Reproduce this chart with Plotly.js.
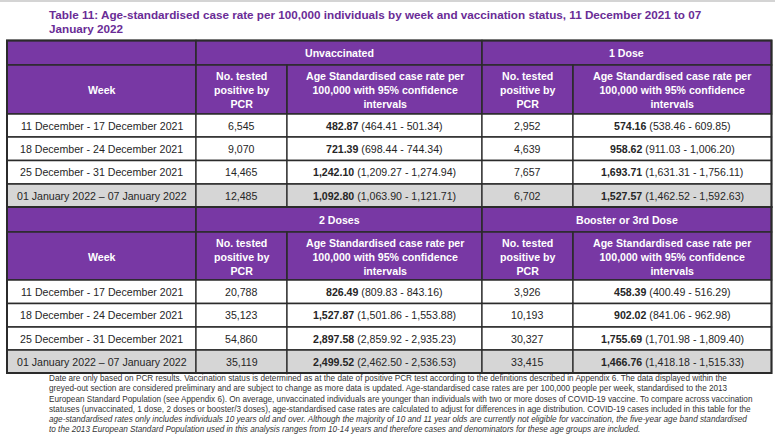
<!DOCTYPE html>
<html>
<head>
<meta charset="utf-8">
<script src="https://cdn.plot.ly/plotly-3.0.1.min.js"></script>
<style>html,body{margin:0;padding:0;background:#fff;}#chart{width:775px;height:437px;}</style>
</head>
<body>
<div id="chart"></div>
<script>
// ---- data ----
const weeks = ["11 December - 17 December 2021", "18 December - 24 December 2021", "25 December - 31 December 2021", "01 January 2022 \u2013 07 January 2022"];
const groups = ["Unvaccinated", "1 Dose", "2 Doses", "Booster or 3rd Dose"];
const positiveUnvacc = [6545, 9070, 14465, 12485];
const positiveDose1 = [2952, 4639, 7657, 6702];
const positiveDose2 = [20788, 35123, 54860, 35119];
const positiveBooster = [3926, 10193, 30327, 33415];
const rateUnvacc = [482.87, 721.39, 1242.10, 1092.80];
const lowerUnvacc = [464.41, 698.44, 1209.27, 1063.90];
const upperUnvacc = [501.34, 744.34, 1274.94, 1121.71];
const rateDose1 = [574.16, 958.62, 1693.71, 1527.57];
const lowerDose1 = [538.46, 911.03, 1631.31, 1462.52];
const upperDose1 = [609.85, 1006.20, 1756.11, 1592.63];
const rateDose2 = [826.49, 1527.87, 2897.58, 2499.52];
const lowerDose2 = [809.83, 1501.86, 2859.92, 2462.50];
const upperDose2 = [843.16, 1553.88, 2935.23, 2536.53];
const rateBooster = [458.39, 902.02, 1755.69, 1466.76];
const lowerBooster = [400.49, 841.06, 1701.98, 1418.18];
const upperBooster = [516.29, 962.98, 1809.40, 1515.33];
const colHeaderWeek = "Week";
const colHeaderPositive = "No. tested<br>positive by<br>PCR";
const colHeaderRate = "Age Standardised case rate per<br>100,000 with 95% confidence<br>intervals";
const titleLines = ["Table 11: Age-standardised case rate per 100,000 individuals by week and vaccination status, 11 December 2021 to 07", "January 2022"];
const noteLines = [
  "Date are only based on PCR results. Vaccination status is determined as at the date of positive PCR test according to the definitions described in Appendix 6. The data displayed within the",
  "greyed-out section are considered preliminary and are subject to change as more data is updated. Age-standardised case rates are per 100,000 people per week, standardised to the 2013",
  "European Standard Population (see Appendix 6). On average, unvaccinated individuals are younger than individuals with two or more doses of COVID-19 vaccine. To compare across vaccination",
  "statuses (unvaccinated, 1 dose, 2 doses or booster/3 doses), age-standardised case rates are calculated to adjust for differences in age distribution. COVID-19 cases included in this table for the",
  "<i>age-standardised rates only includes individuals 10 years old and over. Although the majority of 10 and 11 year olds are currently not eligible for vaccination, the five-year age band standardised</i>",
  "<i>to the 2013 European Standard Population used in this analysis ranges from 10-14 years and therefore cases and denominators for these age groups are included.</i>"
];

// ---- layout geometry (pixel-space axes) ----
const colEdges = [7, 196, 287, 482, 573, 771.5];
const blocks = [
  {rows: [40.5, 65, 114, 137, 160.5, 184, 207], left: [positiveUnvacc, rateUnvacc, lowerUnvacc, upperUnvacc, groups[0]], right: [positiveDose1, rateDose1, lowerDose1, upperDose1, groups[1]]},
  {rows: [207, 232, 280, 303.5, 327, 350, 373], left: [positiveDose2, rateDose2, lowerDose2, upperDose2, groups[2]], right: [positiveBooster, rateBooster, lowerBooster, upperBooster, groups[3]]}
];

function fmt(v, d) {
  const parts = v.toFixed(d).split(".");
  parts[0] = parts[0].replace(/\B(?=(\d{3})+(?!\d))/g, ",");
  return parts.join(".");
}

const PURPLE = "#7838A4";
const GREY = "#D6D6D6";
const BORDER = "#2b2b2b";
const TEXT = "#262626";
const FONT = "Liberation Sans, Arial, sans-serif";

const shapes = [];
const annotations = [];

function rect(x0, x1, y0, y1, fill, lw) {
  shapes.push({type: "rect", xref: "x", yref: "y", x0: x0, x1: x1, y0: y0, y1: y1,
    fillcolor: fill, line: {color: BORDER, width: lw}, layer: "below"});
}
function text(x, y, t, opts) {
  annotations.push(Object.assign({xref: "x", yref: "y", x: x, y: y, text: t, showarrow: false,
    xanchor: "center", yanchor: "middle", font: {family: FONT, size: 10.6, color: TEXT}}, opts || {}));
}
const cx = (i) => (colEdges[i] + colEdges[i + 1]) / 2;

// top page strip
shapes.push({type: "rect", xref: "x", yref: "y", x0: 0, x1: 775, y0: 0, y1: 2, fillcolor: "#d4d4d4", line: {width: 0}, layer: "below"});

blocks.forEach(function (b) {
  const r = b.rows;
  // header row 1
  rect(colEdges[0], colEdges[1], r[0], r[1], PURPLE, 1.6);
  rect(colEdges[1], colEdges[3], r[0], r[1], PURPLE, 1.6);
  rect(colEdges[3], colEdges[5], r[0], r[1], PURPLE, 1.6);
  text((colEdges[1] + colEdges[3]) / 2, (r[0] + r[1]) / 2, "<b>" + b.left[4] + "</b>", {font: {family: FONT, size: 10.6, color: "#ffffff"}});
  text((colEdges[3] + colEdges[5]) / 2, (r[0] + r[1]) / 2, "<b>" + b.right[4] + "</b>", {font: {family: FONT, size: 10.6, color: "#ffffff"}});
  // header row 2
  const hdrs = [colHeaderWeek, colHeaderPositive, colHeaderRate, colHeaderPositive, colHeaderRate];
  for (let c = 0; c < 5; c++) {
    rect(colEdges[c], colEdges[c + 1], r[1], r[2], PURPLE, 1.6);
    text(cx(c), (r[1] + r[2]) / 2 + 0.5, "<b>" + hdrs[c] + "</b>", {font: {family: FONT, size: 10.6, color: "#ffffff"}});
  }
  // data rows
  for (let i = 0; i < weeks.length; i++) {
    const fill = i === weeks.length - 1 ? GREY : "#ffffff";
    for (let c = 0; c < 5; c++) rect(colEdges[c], colEdges[c + 1], r[2 + i], r[3 + i], fill, 1.3);
    const ym = (r[2 + i] + r[3 + i]) / 2;
    text(cx(0), ym, weeks[i]);
    text(cx(1), ym, fmt(b.left[0][i], 0));
    text(cx(2), ym, "<b>" + fmt(b.left[1][i], 2) + "</b> (" + fmt(b.left[2][i], 2) + " - " + fmt(b.left[3][i], 2) + ")");
    text(cx(3), ym, fmt(b.right[0][i], 0));
    text(cx(4), ym, "<b>" + fmt(b.right[1][i], 2) + "</b> (" + fmt(b.right[2][i], 2) + " - " + fmt(b.right[3][i], 2) + ")");
  }
  // outer frame
  shapes.push({type: "rect", xref: "x", yref: "y", x0: colEdges[0], x1: colEdges[5], y0: r[0], y1: r[6],
    line: {color: BORDER, width: 2}, fillcolor: "rgba(0,0,0,0)", layer: "above"});
});

// title
const titleY = [14, 28.5];
titleLines.forEach(function (t, i) {
  annotations.push({xref: "x", yref: "y", x: 47, y: titleY[i], xanchor: "left", yanchor: "middle", showarrow: false,
    text: "<b>" + t + "</b>", font: {family: FONT, size: 11.7, color: "#6A2C96"}});
});

// footnote
const noteY = [378, 388.5, 399, 409, 419, 429.5];
noteLines.forEach(function (t, i) {
  annotations.push({xref: "x", yref: "y", x: 47, y: noteY[i], xanchor: "left", yanchor: "middle", showarrow: false,
    text: t, font: {family: FONT, size: 8.2, color: "#333333"}});
});

const layout = {
  width: 775, height: 437,
  margin: {l: 0, r: 0, t: 0, b: 0},
  paper_bgcolor: "#ffffff", plot_bgcolor: "#ffffff",
  xaxis: {range: [0, 775], visible: false, fixedrange: true},
  yaxis: {range: [437, 0], visible: false, fixedrange: true},
  showlegend: false,
  shapes: shapes,
  annotations: annotations
};

Plotly.newPlot("chart", [{type: "scatter", x: [], y: [], mode: "markers", hoverinfo: "skip"}], layout, {staticPlot: true, displayModeBar: false});
</script>
</body>
</html>
